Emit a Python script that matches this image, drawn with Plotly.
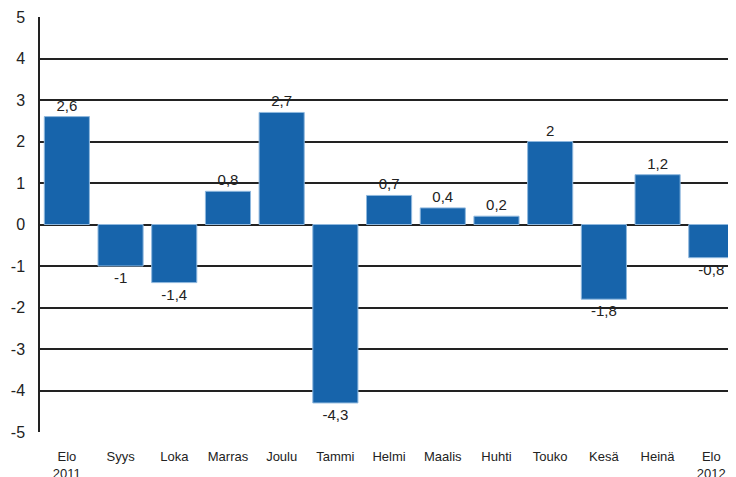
import plotly.graph_objects as go

months = ["Elo<br>2011", "Syys", "Loka", "Marras", "Joulu", "Tammi", "Helmi",
          "Maalis", "Huhti", "Touko", "Kesä", "Heinä", "Elo<br>2012"]
values = [2.6, -1, -1.4, 0.8, 2.7, -4.3, 0.7, 0.4, 0.2, 2, -1.8, 1.2, -0.8]
y_ticks = [-5, -4, -3, -2, -1, 0, 1, 2, 3, 4, 5]

def fmt(v):
    s = ("%g" % v).replace(".", ",")
    return s

labels = [fmt(v) for v in values]
x_idx = list(range(len(months)))

fig = go.Figure(go.Bar(
    x=x_idx, y=values, text=labels, textposition="outside",
    textfont=dict(family="Liberation Sans, Arial", size=15, color="#222"),
    marker=dict(color="#1764ab", line=dict(color="#8fb8de", width=1)),
    cliponaxis=False, constraintext="none",
))

# page body has an 8px margin, so the figure is sized/offset to compensate
fig.update_layout(
    width=728, height=469,
    margin=dict(l=32, r=0, t=9, b=45),
    plot_bgcolor="white", paper_bgcolor="white",
    bargap=0.16, showlegend=False,
    font=dict(family="Liberation Sans, Arial", color="#222"),
)
fig.update_xaxes(
    tickmode="array", tickvals=x_idx, ticktext=months,
    range=[-0.5, len(months) - 0.54], showgrid=False, zeroline=False,
    tickfont=dict(size=13), ticks="", ticklabelstandoff=15, automargin=False,
)
fig.update_yaxes(
    range=[-5, 5], tickvals=y_ticks, ticktext=[str(t) for t in y_ticks],
    showgrid=True, gridcolor="#222", gridwidth=1.5,
    zeroline=True, zerolinecolor="#222", zerolinewidth=1.5,
    showline=True, linecolor="#222", linewidth=1.5,
    tickfont=dict(size=16), ticks="", ticklabelstandoff=10, automargin=False,
)

fig.write_html("out.html")
